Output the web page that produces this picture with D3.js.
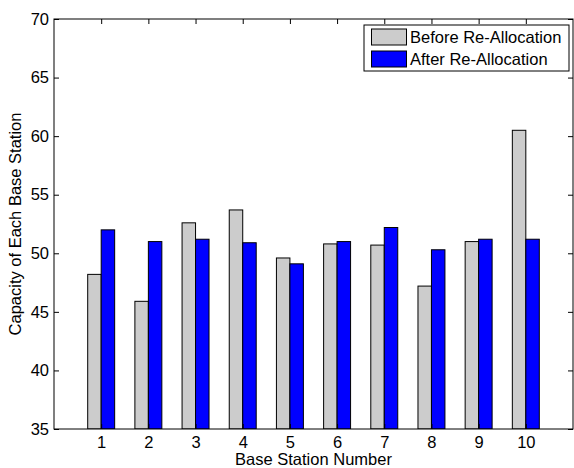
<!DOCTYPE html>
<html>
<head>
<meta charset="utf-8">
<script src="https://cdn.jsdelivr.net/npm/d3@7"></script>
<style>
  html, body { margin: 0; padding: 0; background: #fff; }
  svg { display: block; font-family: "Liberation Sans", Arial, Helvetica, sans-serif; }
</style>
</head>
<body>
<svg id="chart" width="574" height="468"></svg>
<script>
// Base station capacities before and after re-allocation
const stations = [1, 2, 3, 4, 5, 6, 7, 8, 9, 10];
const beforeValues = [48.2, 45.9, 52.6, 53.7, 49.6, 50.8, 50.7, 47.2, 51.0, 60.5];
const afterValues  = [52.0, 51.0, 51.2, 50.9, 49.1, 51.0, 52.2, 50.3, 51.2, 51.2];
const seriesNames = ["Before Re-Allocation", "After Re-Allocation"];
const seriesColors = ["#cccccc", "#0000ff"];
const yTicks = [35, 40, 45, 50, 55, 60, 65, 70];

const svg = d3.select("#chart");
const plot = { left: 54, right: 573, top: 19, bottom: 429 };

const x = d3.scaleLinear().domain([0, 11]).range([plot.left, plot.right]);
const y = d3.scaleLinear().domain([35, 70]).range([plot.bottom, plot.top]);

// grouped bars: two bars per station, group width 2/3.5 of a unit
const barW = (2 / 3.5) / 2;
const series = [beforeValues, afterValues];

svg.append("defs").append("clipPath").attr("id", "plotClip")
  .append("rect")
  .attr("x", plot.left).attr("y", plot.top)
  .attr("width", plot.right - plot.left).attr("height", plot.bottom - plot.top);

const barsG = svg.append("g").attr("clip-path", "url(#plotClip)");
series.forEach((vals, si) => {
  barsG.selectAll(null)
    .data(stations.map((s, i) => ({ s, v: vals[i] })))
    .enter().append("rect")
    .attr("x", d => x(d.s - barW + si * barW))
    .attr("width", d => x(d.s + barW) - x(d.s))
    .attr("y", d => y(d.v))
    .attr("height", d => y(35) - y(d.v))
    .attr("fill", seriesColors[si])
    .attr("stroke", "#000")
    .attr("stroke-width", 1);
});

// axes with inward ticks, mirrored on top and right
const fontSize = 16.5;
const xAxisB = d3.axisBottom(x).tickValues(stations).tickSize(-5).tickPadding(7).tickFormat(d3.format("d"));
const xAxisT = d3.axisTop(x).tickValues(stations).tickSize(-5).tickFormat("");
const yAxisL = d3.axisLeft(y).tickValues(yTicks).tickSize(-5).tickPadding(5).tickFormat(d3.format("d"));
const yAxisR = d3.axisRight(y).tickValues(yTicks).tickSize(-5).tickFormat("");

function style(g) {
  g.select(".domain").remove();
  g.selectAll(".tick line").attr("stroke", "#000").attr("stroke-width", 1);
  g.selectAll(".tick text").attr("fill", "#000").attr("font-size", fontSize)
    .attr("font-family", "Liberation Sans, Arial, sans-serif");
}

svg.append("g").attr("transform", `translate(0,${plot.bottom})`).call(xAxisB).call(style);
svg.append("g").attr("transform", `translate(0,${plot.top})`).call(xAxisT).call(style);
svg.append("g").attr("transform", `translate(${plot.left},0)`).call(yAxisL).call(style);
svg.append("g").attr("transform", `translate(${plot.right},0)`).call(yAxisR).call(style);

// axes box
svg.append("rect")
  .attr("x", plot.left).attr("y", plot.top)
  .attr("width", plot.right - plot.left).attr("height", plot.bottom - plot.top)
  .attr("fill", "none").attr("stroke", "#000").attr("stroke-width", 1);

// axis labels
svg.append("text")
  .attr("x", (plot.left + plot.right) / 2).attr("y", 465)
  .attr("text-anchor", "middle").attr("font-size", fontSize).attr("fill", "#000")
  .text("Base Station Number");

svg.append("text")
  .attr("transform", `translate(21,${(plot.top + plot.bottom) / 2}) rotate(-90)`)
  .attr("text-anchor", "middle").attr("font-size", fontSize).attr("fill", "#000")
  .text("Capacity of Each Base Station");

// legend
const legend = svg.append("g");
legend.append("rect")
  .attr("x", 364).attr("y", 25).attr("width", 205).attr("height", 46)
  .attr("fill", "#fff").attr("stroke", "#000").attr("stroke-width", 1);
seriesNames.forEach((name, i) => {
  const cy = 37 + i * 22;
  legend.append("rect")
    .attr("x", 371.5).attr("y", cy - 8).attr("width", 35).attr("height", 16)
    .attr("fill", seriesColors[i]).attr("stroke", "#000").attr("stroke-width", 1);
  legend.append("text")
    .attr("x", 410).attr("y", cy).attr("dy", "0.36em")
    .attr("font-size", fontSize).attr("fill", "#000")
    .text(name);
});
</script>
</body>
</html>
